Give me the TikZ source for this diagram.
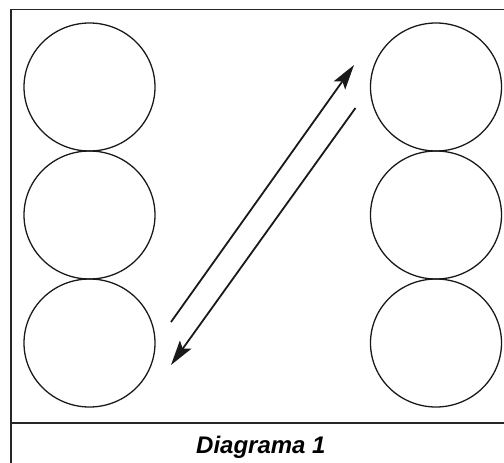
\documentclass[tikz,border=0pt]{standalone}
\usepackage{fontspec}
\setmainfont{Liberation Sans}
\usetikzlibrary{arrows.meta,shapes.geometric}
\begin{document}
\begin{tikzpicture}[x=1pt,y=-1pt,
  ball/.style={ellipse,draw=black!90,line width=1.3pt,minimum width=131pt,minimum height=128pt,inner sep=0pt,outer sep=0pt},
  framel/.style={draw=black!85,line width=1.4pt},
  arr/.style={draw=black!90,line width=1.8pt,-{Stealth[length=25pt,width=14pt,inset=5pt]}}]
\useasboundingbox (0,0) rectangle (504,463);
\draw[framel] (11,463) -- (11,9.5) -- (504,9.5);
\draw[framel] (11,423) -- (504,423);
\node[ball] (l1) at (89.5,87) {};
\node[ball] (l2) at (89.5,215) {};
\node[ball] (l3) at (89.5,343) {};
\node[ball] (r1) at (436,87) {};
\node[ball] (r2) at (436,215) {};
\node[ball] (r3) at (436,343) {};
\coordinate (a1s) at (171,322);
\coordinate (a1e) at (354,65);
\coordinate (a2s) at (355.5,108);
\coordinate (a2e) at (171,365);
\draw[arr] (a1s) -- (a1e);
\draw[arr] (a2s) -- (a2e);
\node[anchor=base west,inner sep=0pt,font=\fontsize{24}{26}\selectfont\bfseries\itshape] (cap) at (196,453) {Diagrama 1};
\end{tikzpicture}
\end{document}
